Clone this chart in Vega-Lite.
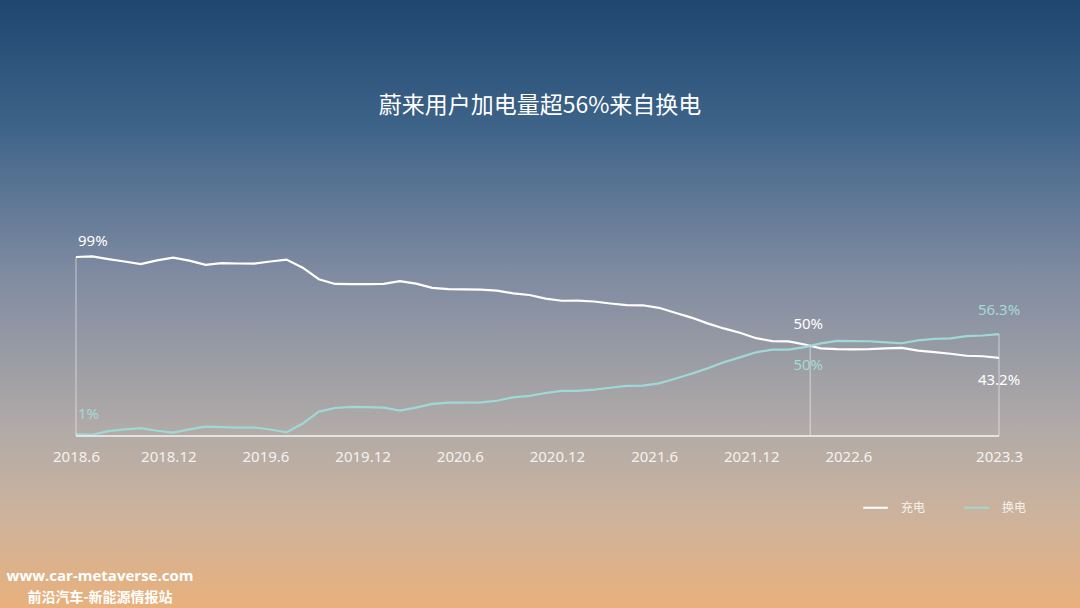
{
  "$schema": "https://vega.github.io/schema/vega-lite/v6.json",
  "width": 1080,
  "height": 608,
  "autosize": {"type": "fit", "contains": "padding"},
  "padding": 0,
  "background": "#8f96a3",
  "config": {"view": {"stroke": null}},
  "title": {
    "text": "蔚来用户加电量超56%来自换电",
    "offset": -118,
    "anchor": "middle",
    "color": "#ffffff",
    "fontSize": 23,
    "font": "Noto Sans CJK SC",
    "fontWeight": "normal"
  },
  "datasets": {
    "share": [
      {"m": 0, "充电": 99, "换电": 1.0},
      {"m": 1, "充电": 99.3, "换电": 0.7},
      {"m": 2, "充电": 97.8, "换电": 2.7},
      {"m": 3, "充电": 96.5, "换电": 3.7},
      {"m": 4, "充电": 95.1, "换电": 4.3},
      {"m": 5, "充电": 97.1, "换电": 2.9},
      {"m": 6, "充电": 98.6, "换电": 1.9},
      {"m": 7, "充电": 97.0, "换电": 3.7},
      {"m": 8, "充电": 94.7, "换电": 5.2},
      {"m": 9, "充电": 95.6, "换电": 4.9},
      {"m": 10, "充电": 95.4, "换电": 4.6},
      {"m": 11, "充电": 95.3, "换电": 4.7},
      {"m": 12, "充电": 96.5, "换电": 3.6},
      {"m": 13, "充电": 97.6, "换电": 2.0},
      {"m": 14, "充电": 93.1, "换电": 6.9},
      {"m": 15, "充电": 86.7, "换电": 13.5},
      {"m": 16, "充电": 84.1, "换电": 15.5},
      {"m": 17, "充电": 84.0, "换电": 16.1},
      {"m": 18, "充电": 84.0, "换电": 16.0},
      {"m": 19, "充电": 84.1, "换电": 15.7},
      {"m": 20, "充电": 85.6, "换电": 14.1},
      {"m": 21, "充电": 84.3, "换电": 15.7},
      {"m": 22, "充电": 81.9, "换电": 17.8},
      {"m": 23, "充电": 81.2, "换电": 18.5},
      {"m": 24, "充电": 81.1, "换电": 18.5},
      {"m": 25, "充电": 81.0, "换电": 18.6},
      {"m": 26, "充电": 80.4, "换电": 19.5},
      {"m": 27, "充电": 78.9, "换电": 21.4},
      {"m": 28, "充电": 78.0, "换电": 22.2},
      {"m": 29, "充电": 76.0, "换电": 23.8},
      {"m": 30, "充电": 74.8, "换电": 25.0},
      {"m": 31, "充电": 74.9, "换电": 25.0},
      {"m": 32, "充电": 74.4, "换电": 25.7},
      {"m": 33, "充电": 73.3, "换电": 26.7},
      {"m": 34, "充电": 72.4, "换电": 27.7},
      {"m": 35, "充电": 72.3, "换电": 27.9},
      {"m": 36, "充电": 70.9, "换电": 29.1},
      {"m": 37, "充电": 68.2, "换电": 31.7},
      {"m": 38, "充电": 65.5, "换电": 34.4},
      {"m": 39, "充电": 62.3, "换电": 37.4},
      {"m": 40, "充电": 59.5, "换电": 40.8},
      {"m": 41, "充电": 57.1, "换电": 43.5},
      {"m": 42, "充电": 54.1, "换电": 46.3},
      {"m": 43, "充电": 52.5, "换电": 47.8},
      {"m": 44, "充电": 52.3, "换电": 47.8},
      {"m": 45, "充电": 50.6, "换电": 49.2},
      {"m": 46, "充电": 48.5, "换电": 51.2},
      {"m": 47, "充电": 48.1, "换电": 52.6},
      {"m": 48, "充电": 47.9, "换电": 52.5},
      {"m": 49, "充电": 48.1, "换电": 52.4},
      {"m": 50, "充电": 48.5, "换电": 51.8},
      {"m": 51, "充电": 48.7, "换电": 51.3},
      {"m": 52, "充电": 47.2, "换电": 52.9},
      {"m": 53, "充电": 46.4, "换电": 53.7},
      {"m": 54, "充电": 45.5, "换电": 54.0},
      {"m": 55, "充电": 44.4, "换电": 55.2},
      {"m": 56, "充电": 44.1, "换电": 55.6},
      {"m": 57, "充电": 43.2, "换电": 56.3}
    ],
    "drops": [
      {"m": 0, "v": 99},
      {"m": 45.34, "v": 50},
      {"m": 57, "v": 56.3}
    ],
    "ann": [
      {"m": 0, "v": 99, "label": "99%", "s": "充电"},
      {"m": 0, "v": 1, "label": "1%", "s": "换电"},
      {"m": 45.34, "v": 50, "label": "50%", "s": "充电"},
      {"m": 45.34, "v": 50, "label": "50%", "s": "换电"},
      {"m": 57, "v": 56.3, "label": "56.3%", "s": "换电"},
      {"m": 57, "v": 43.2, "label": "43.2%", "s": "充电"}
    ]
  },
  "layer": [
    {
      "data": {"values": [{}]},
      "mark": {
        "type": "rect",
        "fill": {
          "gradient": "linear",
          "x1": 0, "y1": 0, "x2": 0, "y2": 1,
          "stops": [
            {"offset": 0, "color": "#1f466f"},
            {"offset": 0.2, "color": "#3c6288"},
            {"offset": 0.45, "color": "#7f8ba1"},
            {"offset": 0.7, "color": "#b0aaa8"},
            {"offset": 0.85, "color": "#cdb39c"},
            {"offset": 1, "color": "#e9b07b"}
          ]
        }
      },
      "encoding": {}
    },
    {
      "data": {"name": "share"},
      "transform": [{"fold": ["充电", "换电"], "as": ["s", "v"]}],
      "mark": {"type": "line", "strokeWidth": 2.2, "interpolate": "linear"},
      "encoding": {
        "x": {
          "field": "m",
          "type": "quantitative",
          "scale": {"domain": [-4.693, 62.002], "nice": false, "zero": false},
          "axis": {
            "orient": "bottom",
            "offset": -172,
            "zindex": 2,
            "domain": false,
            "ticks": false,
            "tickSize": 0,
            "grid": false,
            "title": null,
            "values": [0, 5.7, 11.7, 17.7, 23.7, 29.7, 35.7, 41.7, 47.7, 57],
            "labelExpr": "(2018 + floor((round(datum.value) + 5) / 12)) + '.' + ((round(datum.value) + 5) % 12 + 1)",
            "labelColor": "#f4f2ef",
            "labelFontSize": 15,
            "labelFont": "Noto Sans",
            "labelPadding": 13,
            "labelFlush": false,
            "labelOverlap": false
          }
        },
        "y": {
          "field": "v",
          "type": "quantitative",
          "scale": {"domain": [-95.13, 241.15], "nice": false, "zero": false},
          "axis": null
        },
        "color": {
          "field": "s",
          "type": "nominal",
          "scale": {"domain": ["充电", "换电"], "range": ["#ffffff", "#9fd9d6"]},
          "legend": {
            "title": null,
            "orient": "none",
            "legendX": 862,
            "legendY": 494,
            "direction": "horizontal",
            "symbolType": "stroke",
            "symbolStrokeWidth": 2,
            "symbolSize": 600,
            "labelColor": "#f7f2ec",
            "labelFontSize": 12,
            "labelFont": "Noto Sans CJK SC",
            "labelOffset": 12,
            "columnPadding": 34,
            "padding": 0
          }
        }
      }
    },
    {
      "data": {"name": "drops"},
      "mark": {"type": "rule", "color": "#ffffff", "strokeWidth": 1, "opacity": 0.55},
      "encoding": {
        "x": {"field": "m", "type": "quantitative"},
        "y": {"field": "v", "type": "quantitative", "axis": null},
        "y2": {"datum": 0}
      }
    },
    {
      "data": {"values": [{}]},
      "mark": {"type": "rule", "color": "#f6f3f0", "strokeWidth": 1.5},
      "encoding": {
        "x": {"datum": 0, "type": "quantitative"},
        "x2": {"datum": 57},
        "y": {"datum": 0, "type": "quantitative", "axis": null}
      }
    },
    {
      "data": {"name": "ann"},
      "transform": [{"filter": "datum.label == '99%'"}],
      "mark": {"type": "text", "align": "left", "baseline": "middle", "dx": 2, "dy": -16, "fontSize": 15, "font": "Noto Sans", "fill": "#ffffff"},
      "encoding": {
        "x": {"field": "m", "type": "quantitative"},
        "y": {"field": "v", "type": "quantitative", "axis": null},
        "text": {"field": "label"}
      }
    },
    {
      "data": {"name": "ann"},
      "transform": [{"filter": "datum.label == '1%'"}],
      "mark": {"type": "text", "align": "left", "baseline": "middle", "dx": 2, "dy": -20, "fontSize": 15, "font": "Noto Sans", "fill": "#a4dbd3"},
      "encoding": {
        "x": {"field": "m", "type": "quantitative"},
        "y": {"field": "v", "type": "quantitative", "axis": null},
        "text": {"field": "label"}
      }
    },
    {
      "data": {"name": "ann"},
      "transform": [{"filter": "datum.label == '50%' && datum.s == '充电'"}],
      "mark": {"type": "text", "align": "center", "baseline": "middle", "dx": -2, "dy": -22, "fontSize": 15, "font": "Noto Sans", "fill": "#ffffff"},
      "encoding": {
        "x": {"field": "m", "type": "quantitative"},
        "y": {"field": "v", "type": "quantitative", "axis": null},
        "text": {"field": "label"}
      }
    },
    {
      "data": {"name": "ann"},
      "transform": [{"filter": "datum.label == '50%' && datum.s == '换电'"}],
      "mark": {"type": "text", "align": "center", "baseline": "middle", "dx": -2, "dy": 19, "fontSize": 15, "font": "Noto Sans", "fill": "#a4dbd3"},
      "encoding": {
        "x": {"field": "m", "type": "quantitative"},
        "y": {"field": "v", "type": "quantitative", "axis": null},
        "text": {"field": "label"}
      }
    },
    {
      "data": {"name": "ann"},
      "transform": [{"filter": "datum.label == '56.3%'"}],
      "mark": {"type": "text", "align": "center", "baseline": "middle", "dx": 0, "dy": -24, "fontSize": 15, "font": "Noto Sans", "fill": "#a4dbd3"},
      "encoding": {
        "x": {"field": "m", "type": "quantitative"},
        "y": {"field": "v", "type": "quantitative", "axis": null},
        "text": {"field": "label"}
      }
    },
    {
      "data": {"name": "ann"},
      "transform": [{"filter": "datum.label == '43.2%'"}],
      "mark": {"type": "text", "align": "center", "baseline": "middle", "dx": 0, "dy": 22, "fontSize": 15, "font": "Noto Sans", "fill": "#ffffff"},
      "encoding": {
        "x": {"field": "m", "type": "quantitative"},
        "y": {"field": "v", "type": "quantitative", "axis": null},
        "text": {"field": "label"}
      }
    },
    {
      "data": {"values": [{"t": "www.car-metaverse.com"}]},
      "mark": {"type": "text", "align": "center", "baseline": "middle", "fontSize": 15, "font": "Open Sans", "fontWeight": "bold", "fill": "#ffffff"},
      "encoding": {
        "x": {"datum": 1.483, "type": "quantitative"},
        "y": {"datum": -77.4, "type": "quantitative", "axis": null},
        "text": {"field": "t"}
      }
    },
    {
      "data": {"values": [{"t": "前沿汽车-新能源情报站"}]},
      "mark": {"type": "text", "align": "center", "baseline": "middle", "fontSize": 14, "font": "Noto Sans CJK SC", "fontWeight": "bold", "fill": "#ffffff"},
      "encoding": {
        "x": {"datum": 1.483, "type": "quantitative"},
        "y": {"datum": -89.6, "type": "quantitative", "axis": null},
        "text": {"field": "t"}
      }
    }
  ]
}
